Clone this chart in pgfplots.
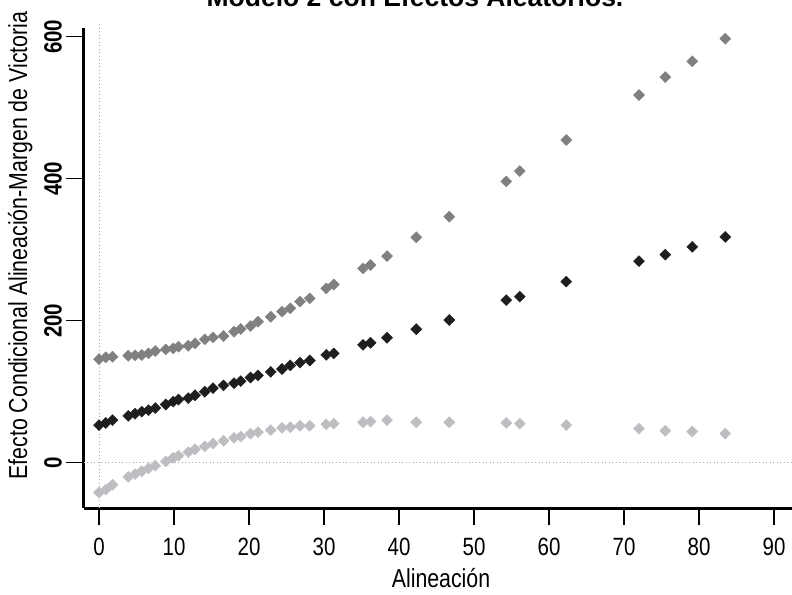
\documentclass[border=0pt]{standalone}
\usepackage{fontspec}
\setmainfont{Liberation Sans}[FakeStretch=0.82]
\newfontfamily\titlefont{Liberation Sans}
\usepackage{pgfplots}
\pgfplotsset{compat=1.18}

\definecolor{est}{HTML}{1E1E1E}
\definecolor{upper}{HTML}{808080}
\definecolor{lower}{HTML}{BEBEC2}

\pgfplotstableread{
x    est  hi     lo
0.0  53   146.0  -42
0.9  56   148.5  -38
1.8  60   149.3  -31
3.9  66   150.7  -20
4.8  69   151.3  -16
5.7  72   151.7  -12
6.6  74   154.1  -8
7.5  77   157.3  -4
8.9  82   159.7   2
9.9  86   161.1  7
10.6 89   163.4  10
11.9 91   164.8  15
12.8 95   168.2  19
14.1 100  173.8  23
15.2 105  176.6  27
16.6 109  178.5  31
18.0 112  184.5  35
18.9 115  188.3  37
20.2 120  192.5  41
21.2 123  198.6  43
22.9 128  205.6  46
24.4 132  212.7  49
25.5 137  217.5  50
26.8 141  226.8  52
28.1 144  231.5  52
30.3 152  245.6  54
31.3 154  251.0  55
35.2 166  273.8  57
36.2 169  278.5  58
38.4 176  291.1  60
42.3 188  317.5  57
46.7 201  346.5  57
54.3 229  396.3  56
56.1 234  410.8  55
62.3 255  454.5  53
72.0 284  517.9  48
75.5 293  543.2  45
79.1 304  565.4  44
83.5 318  597.2  41
}\modelo

\begin{document}
\begin{tikzpicture}
\useasboundingbox (0,0) rectangle (792bp,595bp);
\begin{axis}[
    at={(83.5bp,86.7bp)}, anchor=south west,
    scale only axis, width=708.5bp, height=480.3bp,
    xmin=-2.067, xmax=92.4, ymin=-64.2, ymax=612.3,
    clip=false,
    axis x line*=bottom, axis y line*=left,
    axis line style={line width=2.6bp, -},
    xtick={0,10,...,90}, ytick={0,200,400,600},
    tick align=outside, major tick length=17bp,
    tick style={black, line width=1.2bp},
    /pgf/number format/assume math mode=true,
    xticklabel style={anchor=base, yshift=-30bp, font=\fontsize{25bp}{29bp}\selectfont},
    yticklabel style={xshift=-5bp, rotate=90, anchor=base, font=\fontsize{25bp}{29bp}\selectfont\bfseries},
    label style={font=\fontsize{26bp}{30bp}\selectfont},
    xlabel={Alineación},
    xlabel style={at={(axis description cs:0.5046,0)}, anchor=base, yshift=-78.7bp},
    ylabel={Efecto Condicional Alineación-Margen de Victoria},
    ylabel style={at={(axis description cs:-0.0797,0.547)}, anchor=base},
]
% reference lines at zero
\draw[upper!70, line width=1bp, dash pattern=on 1bp off 2.5bp] (axis cs:0,-64.2) -- (axis cs:0,619);
\draw[upper!70, line width=1bp, dash pattern=on 1bp off 2.5bp] (axis cs:-2.067,0) -- (axis cs:92.4,0);

\addplot[only marks, mark=square*, mark size=3.9bp, color=upper,
    mark options={rotate=45, fill=upper, draw=upper}] table[x=x, y=hi] {\modelo};
\addplot[only marks, mark=square*, mark size=3.9bp, color=lower,
    mark options={rotate=45, fill=lower, draw=lower}] table[x=x, y=lo] {\modelo};
\addplot[only marks, mark=square*, mark size=3.9bp, color=est,
    mark options={rotate=45, fill=est, draw=est}] table[x=x, y=est] {\modelo};
\end{axis}
\node[anchor=base, font=\titlefont\bfseries\fontsize{26.5bp}{30bp}\selectfont] at (415bp,588bp) {Modelo 2 con Efectos Aleatorios.};
\end{tikzpicture}
\end{document}
